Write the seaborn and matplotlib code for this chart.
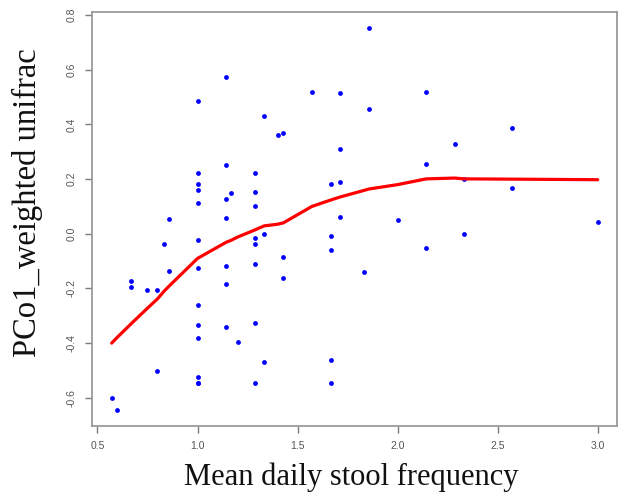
import matplotlib
matplotlib.use("Agg")
import matplotlib.pyplot as plt
import seaborn as sns
import pandas as pd

# Mean daily stool frequency per subject and first principal coordinate (weighted UniFrac)
stool_freq = [
    0.571, 0.6, 0.667, 0.667, 0.75, 0.8, 0.8, 0.833, 0.857, 0.857,
    1.0, 1.0, 1.0, 1.0, 1.0, 1.0, 1.0, 1.0, 1.0, 1.0, 1.0, 1.0, 1.0,
    1.143, 1.143, 1.143, 1.143, 1.143, 1.143, 1.143, 1.167, 1.2,
    1.286, 1.286, 1.286, 1.286, 1.286, 1.286, 1.286, 1.286,
    1.333, 1.333, 1.333, 1.4, 1.429, 1.429, 1.429,
    1.571, 1.667, 1.667, 1.667, 1.667, 1.667,
    1.714, 1.714, 1.714, 1.714, 1.833, 1.857, 1.857,
    2.0, 2.143, 2.143, 2.143, 2.286, 2.333, 2.333, 2.571, 2.571, 3.0,
]
pco1 = [
    -0.599, -0.646, -0.171, -0.194, -0.204, -0.206, -0.502, -0.038, 0.054, -0.135,
    0.486, 0.223, 0.183, 0.159, 0.113, -0.023, -0.124, -0.260, -0.334, -0.382, -0.523, -0.547, -0.547,
    0.572, 0.252, 0.127, 0.057, -0.118, -0.185, -0.340, 0.149, -0.395,
    0.221, 0.154, 0.100, -0.015, -0.039, -0.111, -0.327, -0.547,
    0.432, 0.0, -0.468, 0.360, 0.370, -0.086, -0.161,
    0.520, 0.181, -0.008, -0.060, -0.460, -0.545,
    0.516, 0.311, 0.190, 0.062, -0.139, 0.754, 0.457,
    0.049, 0.520, 0.255, -0.051, 0.327, 0.200, 0.001, 0.386, 0.167, 0.044,
]

# Smoothed trend evaluated at each distinct frequency
trend_x = [
    0.571, 0.6, 0.667, 0.75, 0.8, 0.833, 0.857, 1.0, 1.143, 1.167, 1.2,
    1.286, 1.333, 1.4, 1.429, 1.571, 1.667, 1.714, 1.833, 1.857, 2.0,
    2.143, 2.286, 2.333, 2.571, 3.0,
]
trend_y = [
    -0.400, -0.378, -0.330, -0.272, -0.238, -0.210, -0.192, -0.090, -0.031, -0.024, -0.012,
    0.014, 0.029, 0.035, 0.040, 0.100, 0.124, 0.135, 0.159, 0.164, 0.180,
    0.201, 0.204, 0.201, 0.200, 0.198,
]

x_ticks = [0.5, 1.0, 1.5, 2.0, 2.5, 3.0]
y_ticks = [-0.6, -0.4, -0.2, 0.0, 0.2, 0.4, 0.6, 0.8]

points = pd.DataFrame({"freq": stool_freq, "pco1": pco1})
trend = pd.DataFrame({"freq": trend_x, "pco1": trend_y})

sns.set_style("white")
fig = plt.figure(figsize=(6.19, 4.97), dpi=100)
ax = fig.add_axes([0.149, 0.1435, 0.848, 0.8315])

sns.scatterplot(data=points, x="freq", y="pco1", ax=ax, color="#0000ff",
                s=12, linewidth=0, zorder=3)
sns.lineplot(data=trend, x="freq", y="pco1", ax=ax, color="#ff0000",
             linewidth=2.3, zorder=4, sort=False)

span_x = max(stool_freq) - min(stool_freq)
span_y = max(pco1) - min(pco1)
ax.set_xlim(min(stool_freq) - 0.04 * span_x, max(stool_freq) + 0.04 * span_x)
ax.set_ylim(min(pco1) - 0.04 * span_y, max(pco1) + 0.04 * span_y)

tick_font = ["Liberation Sans", "DejaVu Sans"]
ax.set_xticks(x_ticks)
ax.set_xticklabels([f"{v:.1f}" for v in x_ticks], family=tick_font)
ax.set_yticks(y_ticks)
ax.set_yticklabels([f"{v:.1f}" for v in y_ticks], rotation=90, va="center",
                   family=tick_font)

frame_color = "#9a9a9a"
for sp in ax.spines.values():
    sp.set_visible(True)
    sp.set_color(frame_color)
    sp.set_linewidth(1.3)

ax.tick_params(axis="both", direction="out", length=5, width=1.0,
               color="#7a7a7a", labelsize=7.5, labelcolor="#555555", pad=6,
               bottom=True, left=True)

serif = ["Liberation Serif", "DejaVu Serif"]
ax.set_xlabel("Mean daily stool frequency", family=serif, size=22, color="#111111")
ax.set_ylabel("PCo1_weighted unifrac", family=serif, size=23.5, color="#111111")
ax.xaxis.set_label_coords(0.493, -0.09)
ax.yaxis.set_label_coords(-0.094, 0.54)

fig.savefig("out.png", dpi=100)
